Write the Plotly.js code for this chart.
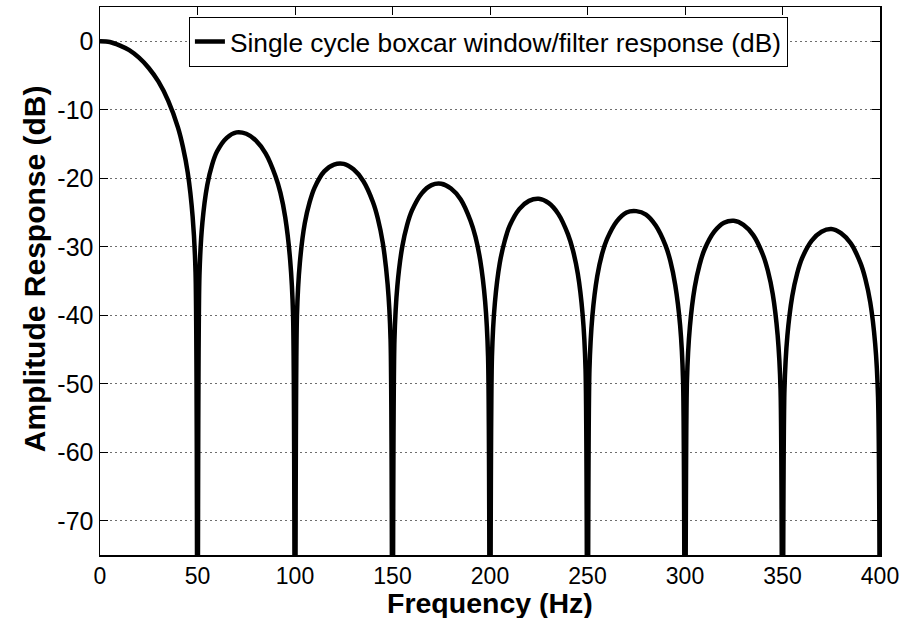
<!DOCTYPE html>
<html>
<head>
<meta charset="utf-8">
<script src="https://cdn.plot.ly/plotly-3.0.1.min.js"></script>
<style>
  html, body { margin: 0; padding: 0; background: #fff; }
  #chart { width: 919px; height: 618px; }
</style>
</head>
<body>
<div id="chart"></div>
<script>
// Frequency samples (Hz) of the boxcar response, lobe by lobe
const freqHz = [
  0, 5, 10, 15, 20, 25, 30, 35, 40, 42.5, 45, 47.5, 49, 50,
  51, 52.5, 55, 57.5, 60, 65, 70, 75, 80, 85, 90, 92.5, 95, 97.5, 99, 100,
  101, 102.5, 105, 107.5, 110, 115, 120, 125, 130, 135, 140, 142.5, 145, 147.5, 149, 150,
  151, 152.5, 155, 157.5, 160, 165, 170, 175, 180, 185, 190, 192.5, 195, 197.5, 199, 200,
  201, 202.5, 205, 207.5, 210, 215, 220, 225, 230, 235, 240, 242.5, 245, 247.5, 249, 250,
  251, 252.5, 255, 257.5, 260, 265, 270, 275, 280, 285, 290, 292.5, 295, 297.5, 299, 300,
  301, 302.5, 305, 307.5, 310, 315, 320, 325, 330, 335, 340, 342.5, 345, 347.5, 349, 350,
  351, 352.5, 355, 357.5, 360, 365, 370, 375, 380, 385, 390, 392.5, 395, 397.5, 399, 400
];

// Amplitude response (dB); the nulls fall far below the visible range
const responseDb = [
  0, -0.1, -0.6, -1.3, -2.4, -3.9, -5.9, -8.7, -12.6, -15.4, -19.2, -25.6, -33.8, -120,
  -34.2, -26.5, -21.0, -18.0, -16.1, -14.1, -13.3, -13.5, -14.5, -16.4, -19.7, -22.1, -25.7, -31.9, -39.9, -120,
  -40.1, -32.3, -26.6, -23.5, -21.4, -19.0, -18.0, -17.9, -18.7, -20.4, -23.5, -25.9, -29.4, -35.5, -43.5, -120,
  -43.6, -35.7, -30.0, -26.8, -24.7, -22.2, -21.0, -20.8, -21.5, -23.1, -26.2, -28.5, -32.0, -38.0, -46.0, -120,
  -46.1, -38.2, -32.4, -29.2, -27.0, -24.5, -23.3, -23.0, -23.6, -25.2, -28.2, -30.5, -33.9, -39.9, -47.9, -120,
  -48.0, -40.1, -34.3, -31.0, -28.9, -26.3, -25.0, -24.8, -25.3, -26.9, -29.8, -32.1, -35.6, -41.5, -49.5, -120,
  -49.6, -41.7, -35.9, -32.6, -30.4, -27.8, -26.5, -26.2, -26.8, -28.3, -31.2, -33.5, -36.9, -42.9, -50.9, -120,
  -50.9, -43.0, -37.2, -33.9, -31.7, -29.1, -27.8, -27.4, -28.0, -29.5, -32.4, -34.7, -38.1, -44.1, -52.0, -120
];

const xTicks = [0, 50, 100, 150, 200, 250, 300, 350, 400];
const yTicks = [-70, -60, -50, -40, -30, -20, -10, 0];

const seriesName = 'Single cycle boxcar window/filter response (dB)';
const xTitle = 'Frequency (Hz)';
const yTitle = 'Amplitude Response (dB)';
const fontFamily = 'Arial, "Liberation Sans", sans-serif';

const trace = {
  x: freqHz,
  y: responseDb,
  type: 'scatter',
  mode: 'lines',
  name: seriesName,
  line: { color: '#000000', width: 4.5, shape: 'spline', smoothing: 0.8 },
  showlegend: true
};

const layout = {
  width: 919,
  height: 618,
  paper_bgcolor: '#ffffff',
  plot_bgcolor: '#ffffff',
  margin: { l: 100, r: 39, t: 7, b: 63 },
  font: { family: fontFamily, size: 25, color: '#000000' },
  showlegend: true,
  legend: {
    x: 0.114, y: 0.982, xanchor: 'left', yanchor: 'top',
    bgcolor: '#ffffff', bordercolor: '#000000', borderwidth: 1,
    font: { family: fontFamily, size: 26.3, color: '#000000' },
    itemwidth: 30, tracegroupgap: 0
  },
  xaxis: {
    range: [0, 400],
    tickvals: xTicks,
    ticktext: xTicks.map(String),
    ticks: 'inside', ticklen: 8, tickwidth: 1, tickcolor: '#000000',
    showline: true, linecolor: '#000000', linewidth: 1.5, mirror: 'ticks',
    showgrid: false, zeroline: false,
    tickfont: { family: fontFamily, size: 23 }
  },
  yaxis: {
    range: [-75, 5],
    tickvals: yTicks,
    ticktext: yTicks.map(String),
    ticks: 'inside', ticklen: 8, tickwidth: 1, tickcolor: '#000000',
    showline: true, linecolor: '#000000', linewidth: 1.5, mirror: 'ticks',
    showgrid: true, gridcolor: '#6e6e6e', gridwidth: 1, griddash: '2px,3px',
    zeroline: false,
    tickfont: { family: fontFamily, size: 25 }
  },
  annotations: [
    {
      text: xTitle, showarrow: false,
      font: { family: fontFamily, size: 28.5, weight: 'bold', color: '#000000' },
      xref: 'paper', yref: 'paper', x: 0.5, y: -0.118,
      xanchor: 'center', yanchor: 'bottom', borderpad: 0
    },
    {
      text: yTitle, showarrow: false, textangle: -90,
      font: { family: fontFamily, size: 30, weight: 'bold', color: '#000000' },
      xref: 'paper', yref: 'paper', x: -0.083, y: 0.522,
      xanchor: 'center', yanchor: 'middle'
    }
  ]
};

Plotly.newPlot('chart', [trace], layout, { staticPlot: true, displayModeBar: false });
</script>
</body>
</html>
